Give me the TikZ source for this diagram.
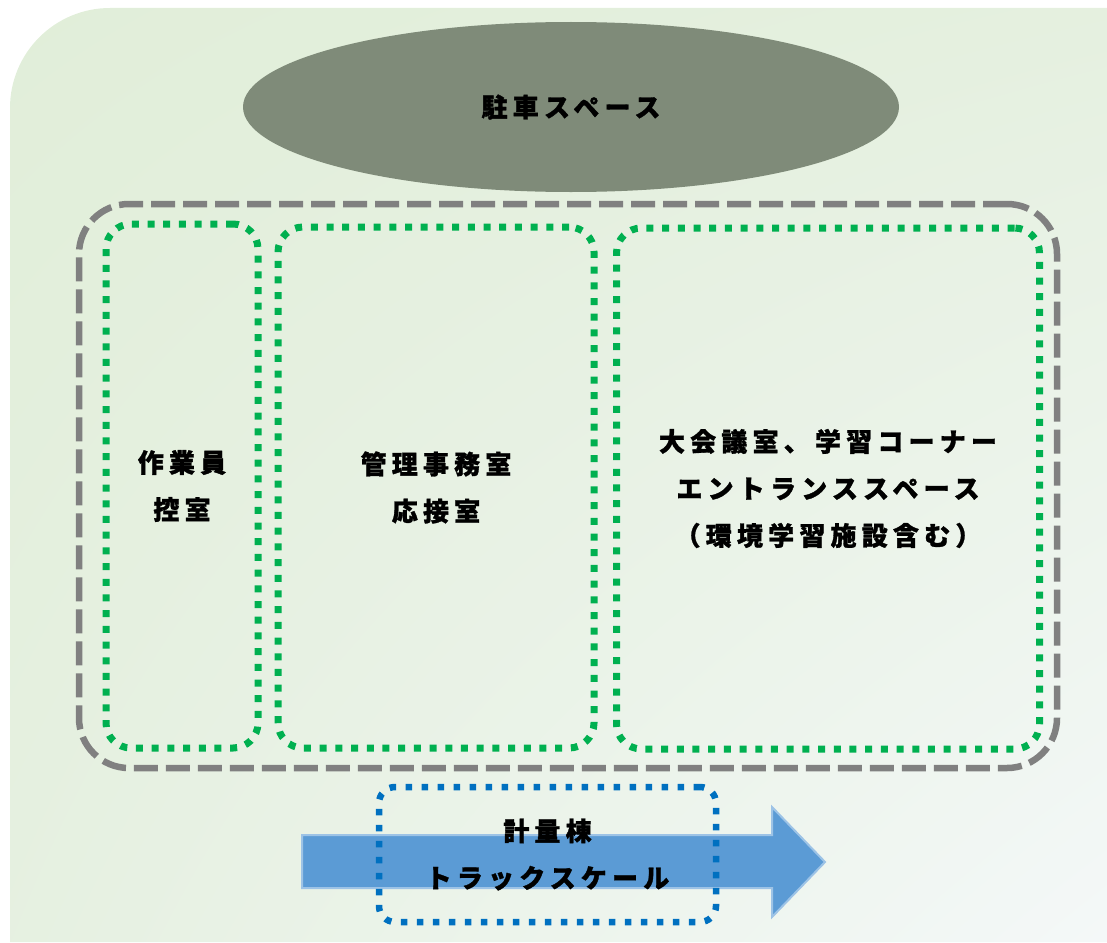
\documentclass[tikz,border=0pt]{standalone}
\usepackage{fontspec}
\usetikzlibrary{positioning, shapes.geometric, shadings}
\newfontfamily\jpfont{Noto Sans CJK JP}[LetterSpace=20, BoldFeatures={FakeBold=1.2}]
\definecolor{bggreen}{RGB}{225,238,217}
\definecolor{bgwhite}{RGB}{244,248,248}
\definecolor{parkgray}{RGB}{127,139,121}
\definecolor{zonegray}{RGB}{128,128,128}
\definecolor{roomgreen}{RGB}{0,176,80}
\definecolor{scaleblue}{RGB}{0,112,192}
\definecolor{arrowblue}{RGB}{91,155,213}
\definecolor{arrowedge}{RGB}{157,195,230}

\begin{document}
\begin{tikzpicture}[x=1pt, y=-1pt,
    lbl/.style={font=\jpfont\bfseries\fontsize{26}{47}\selectfont, align=center, text=black},
    zone/.style={draw=zonegray, line width=6.5pt, dash pattern=on 24pt off 8pt, rounded corners=50pt},
    room/.style={lbl, draw=roomgreen, line width=7pt, dash pattern=on 7pt off 8.7pt, rounded corners=25pt},
    scalebox/.style={lbl, draw=scaleblue, line width=6.5pt, dash pattern=on 6.5pt off 9.5pt, rounded corners=16pt}]
  \useasboundingbox (0,0) rectangle (1107,942);
  % site background
  \shade[upper left=bggreen, upper right=bggreen!80!bgwhite, lower left=bggreen!75!bgwhite, lower right=bgwhite]
    (10,942) -- (10,108) arc[start angle=180, end angle=270, radius=100] -- (1107,8) -- (1107,942) -- cycle;
  % parking
  \node[ellipse, fill=parkgray, minimum width=656pt, minimum height=170pt, lbl] (park) at (571,107) {駐車スペース};
  % building
  \node[zone, minimum width=978pt, minimum height=564pt] (bldg) at (568,486) {};
  \node[room, minimum width=152pt, minimum height=524pt] (crew)   at (182,486)   {作業員\\控室};
  \node[room, minimum width=316pt, minimum height=521pt] (office) at (436,487.5) {管理事務室\\応接室};
  \node[room, minimum width=423pt, minimum height=521pt] (hall)   at (828,488.5) {大会議室、学習コーナー\\エントランススペース\\（環境学習施設含む）};
  % truck scale
  \draw[fill=arrowblue, draw=arrowedge, line width=2pt]
    (302,835) -- (772,835) -- (772,807) -- (825,862) -- (772,917) -- (772,888) -- (302,888) -- cycle;
  \node[scalebox, minimum width=337pt, minimum height=135pt] (scale) at (547.5,854.5) {計量棟\\トラックスケール};
\end{tikzpicture}
\end{document}
